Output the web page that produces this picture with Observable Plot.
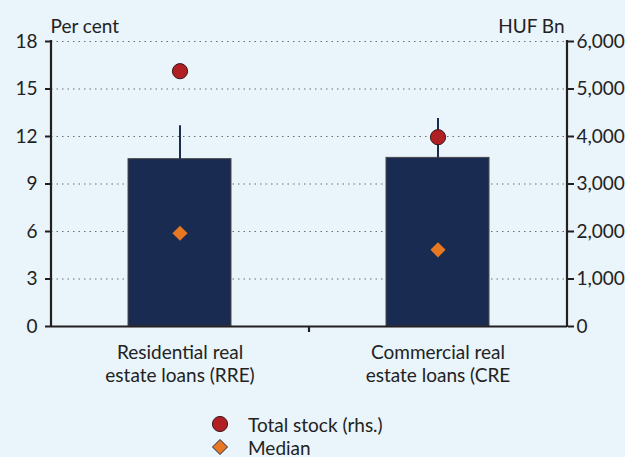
<!DOCTYPE html>
<html>
<head>
<meta charset="utf-8">
<script src="https://cdn.jsdelivr.net/npm/d3@7"></script>
<script src="https://cdn.jsdelivr.net/npm/@observablehq/plot@0.6"></script>
<style>
  html, body { margin: 0; padding: 0; background: #e9f4fb; }
  body { width: 625px; height: 457px; overflow: hidden; font-family: Lato, "Open Sans", sans-serif; color: #222; }
  #chart svg { display: block; }
  #legend { position: relative; height: 65px; font-size: 19px; }
  .item { position: absolute; left: 210px; display: flex; align-items: center; height: 22px; }
  .item svg { width: 20px; height: 20px; margin-right: 18px; }
</style>
</head>
<body>
<div id="chart"></div>
<div id="legend"></div>
<script>
// Data
const categories = ["Residential real\nestate loans (RRE)", "Commercial real\nestate loans (CRE"];
const barValues = [10.57, 10.65];          // per cent (lhs)
const upperValues = [12.68, 13.14];        // per cent (lhs), whisker top
const medianValues = [5.89, 4.84];         // per cent (lhs)
const totalStock = [5375, 3985];           // HUF Bn (rhs)
const leftTicks = [0, 3, 6, 9, 12, 15, 18];
const rightMax = 6000, leftMax = 18;
const seriesNames = ["Total stock (rhs.)", "Median"];

const toLeft = v => v * leftMax / rightMax;
const data = categories.map((c, i) => ({
  cat: c, bar: barValues[i], upper: upperValues[i], median: medianValues[i],
  stock: totalStock[i], stockL: toLeft(totalStock[i])
}));

const navy = "#1a2b52", red = "#b01f24", orange = "#e87722", axisCol = "#231f20";
const FS = 19;

// axis frame lines (left, right) and the middle category separator tick
function frameLines(index, scales, values, dim) {
  const g = d3.create("svg:g").attr("stroke", axisCol).attr("stroke-width", 2.2);
  const l = dim.marginLeft, r = dim.width - dim.marginRight;
  const t = dim.marginTop, b = dim.height - dim.marginBottom;
  g.append("line").attr("x1", l).attr("x2", l).attr("y1", t - 1).attr("y2", b + 1);
  g.append("line").attr("x1", r).attr("x2", r).attr("y1", t - 1).attr("y2", b + 1);
  const m = (l + r) / 2;
  g.append("line").attr("x1", m).attr("x2", m).attr("y1", b).attr("y2", b + 6);
  return g.node();
}

const chart = Plot.plot({
  width: 625,
  height: 392,
  marginLeft: 51,
  marginRight: 58,
  marginTop: 41,
  marginBottom: 66,
  style: { background: "transparent", fontFamily: "Lato, 'Open Sans', sans-serif", fontSize: FS + "px", color: "#222" },
  x: { domain: categories, paddingInner: 0.6, paddingOuter: 0.3 },
  y: { domain: [0, leftMax] },
  marks: [
    Plot.gridY(leftTicks, { stroke: "#6d6d6d", strokeOpacity: 1, strokeWidth: 1.2, strokeDasharray: "1.5,4" }),
    Plot.barY(data, { x: "cat", y: "bar", fill: navy, stroke: "#4a4a4a", strokeWidth: 1 }),
    Plot.ruleX(data, { x: "cat", y1: "bar", y2: "upper", stroke: navy, strokeWidth: 2 }),
    Plot.dot(data, { x: "cat", y: "median", symbol: "diamond2", r: 6.8, fill: orange, stroke: null }),
    Plot.dot(data, { x: "cat", y: "stockL", r: 7.6, fill: red, stroke: "#3a1a1a", strokeWidth: 1 }),
    Plot.ruleY([0], { stroke: axisCol, strokeWidth: 2.2 }),
    Plot.axisY(leftTicks, { anchor: "left", tickSize: 6, tickPadding: 8, strokeWidth: 2, stroke: axisCol, fontSize: FS, label: null }),
    Plot.axisY(leftTicks, { anchor: "right", tickSize: 6, tickPadding: 3, strokeWidth: 2, stroke: axisCol, fontSize: FS, label: null,
      tickFormat: d => d3.format(",")(Math.round(d * rightMax / leftMax)) }),
    Plot.axisX({ anchor: "bottom", tickSize: 0, tickPadding: 15, fontSize: FS, lineHeight: 1.26, label: null }),
    Plot.text(["Per cent"], { frameAnchor: "top-left", dy: -22, dx: -1, textAnchor: "start", fontSize: FS, fill: "#222" }),
    Plot.text(["HUF Bn"], { frameAnchor: "top-right", dy: -22, dx: -3, textAnchor: "end", fontSize: FS, fill: "#222" }),
    frameLines
  ]
});
document.getElementById("chart").appendChild(chart);

// Legend
const legend = document.getElementById("legend");
const symbols = [
  `<svg viewBox="-10 -10 20 20"><circle r="7.6" fill="${red}" stroke="#3a1a1a" stroke-width="1"/></svg>`,
  `<svg viewBox="-10 -10 20 20"><path d="M0,-7.5L7.5,0L0,7.5L-7.5,0Z" fill="${orange}" stroke="#1a2b52" stroke-width="1"/></svg>`
];
seriesNames.forEach((name, i) => {
  const div = document.createElement("div");
  div.className = "item";
  div.style.top = (21 + i * 23) + "px";
  div.innerHTML = symbols[i] + `<span>${name}</span>`;
  legend.appendChild(div);
});
</script>
</body>
</html>
